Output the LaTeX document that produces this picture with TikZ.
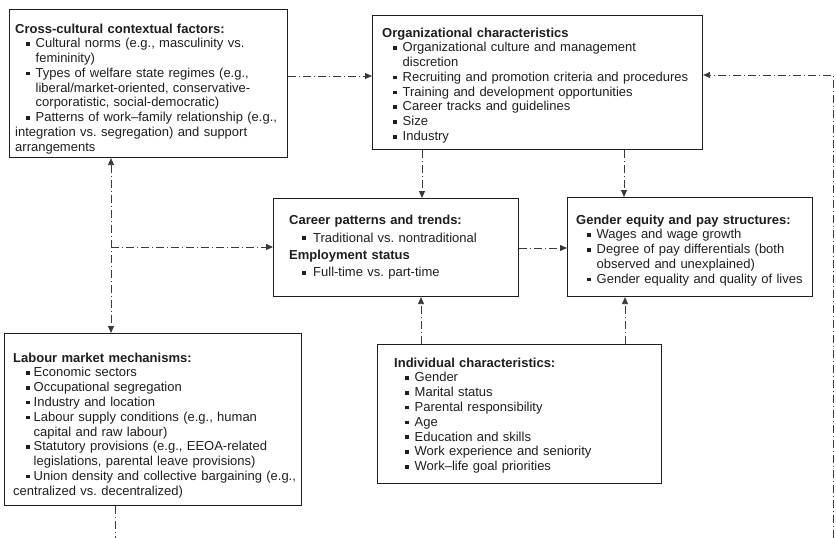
\documentclass[tikz,border=0pt]{standalone}
\usepackage{fontspec}
\setmainfont{Liberation Sans}
\usetikzlibrary{arrows.meta}

\definecolor{inkc}{HTML}{1E1E1E}
\definecolor{linec}{HTML}{3A3A3A}

% bullet list helpers: \hd = bold heading line, \itm = bulleted item with hanging indent
\newlength\bulletin \newlength\textin
\setlength\bulletin{11pt}\setlength\textin{20.5pt}
\newcommand\hd[1]{\par\noindent\textbf{#1}}
\newcommand\itm[1]{\par\hangindent=\textin\hangafter=1\noindent\hspace*{\bulletin}%
  \makebox[\dimexpr\textin-\bulletin\relax][l]{\rule[2pt]{3.6pt}{3.6pt}}#1}
\newcommand\plainln[1]{\par\noindent #1}

\tikzset{
  box/.style={draw=inkc, line width=1.1pt, anchor=north west, inner sep=0pt},
  txt/.style={anchor=north west, inner sep=0pt, text width=330pt, align=left,
    text=inkc, font=\fontsize{13}{14.8}\selectfont\frenchspacing},
  tip/.style={Triangle[length=7pt,width=6pt]},
  link/.style={draw=linec, line width=0.8pt,
    dash pattern=on 8pt off 3pt on 1pt off 3pt,
    -{Triangle[length=7pt,width=6pt]}},
  link2/.style={link, {Triangle[length=7pt,width=6pt]}-{Triangle[length=7pt,width=6pt]}},
  linkplain/.style={link, -},
}

\begin{document}
\begin{tikzpicture}[x=1pt, y=-1pt]
\useasboundingbox (0,0) rectangle (836,538);

% frames
\node[box, minimum width=278pt, minimum height=148pt] (b1) at (9,9) {};
\node[box, minimum width=330pt, minimum height=134pt] (b2) at (372,15) {};
\node[box, minimum width=245pt, minimum height=98pt]  (b3) at (273,198) {};
\node[box, minimum width=245pt, minimum height=99pt]  (b4) at (567,197) {};
\node[box, minimum width=297pt, minimum height=172pt] (b5) at (4,333) {};
\node[box, minimum width=284pt, minimum height=139pt] (b6) at (377,344) {};

% texts
\node[txt] (t1) at (15,18) {%
  \hd{Cross-cultural contextual factors:}
  \itm{Cultural norms (e.g., masculinity vs.\newline femininity)}
  \itm{Types of welfare state regimes (e.g.,\newline liberal/market-oriented, conservative-\newline corporatistic, social-democratic)}
  \itm{Patterns of work–family relationship (e.g.,\newline integration vs. segregation) and support\newline arrangements}};

\node[txt] (t2) at (382,22) {%
  \hd{Organizational characteristics}
  \itm{Organizational culture and management\newline discretion}
  \itm{Recruiting and promotion criteria and procedures}
  \itm{Training and development opportunities}
  \itm{Career tracks and guidelines}
  \itm{Size}
  \itm{Industry}};

\node[txt, font=\fontsize{13}{17.4}\selectfont\frenchspacing] (t3) at (289,207) {%
  \setlength\bulletin{13pt}\setlength\textin{24pt}%
  \hd{Career patterns and trends:}
  \itm{Traditional vs. nontraditional}
  \hd{Employment status}
  \itm{Full-time vs. part-time}};

\node[txt] (t4) at (576,209) {%
  \hd{Gender equity and pay structures:}
  \itm{Wages and wage growth}
  \itm{Degree of pay differentials (both\newline observed and unexplained)}
  \itm{Gender equality and quality of lives}};

\node[txt] (t5) at (13,347) {%
  \setlength\bulletin{13pt}\setlength\textin{20.5pt}%
  \hd{Labour market mechanisms:}
  \itm{Economic sectors}
  \itm{Occupational segregation}
  \itm{Industry and location}
  \itm{Labour supply conditions (e.g., human\newline capital and raw labour)}
  \itm{Statutory provisions (e.g., EEOA-related\newline legislations, parental leave provisions)}
  \itm{Union density and collective bargaining (e.g.,}
  \plainln{centralized vs. decentralized)}};

\node[txt] (t6) at (394,352) {%
  \hd{Individual characteristics:}
  \itm{Gender}
  \itm{Marital status}
  \itm{Parental responsibility}
  \itm{Age}
  \itm{Education and skills}
  \itm{Work experience and seniority}
  \itm{Work–life goal priorities}};

% connectors
\coordinate (rt) at (833,538);
\coordinate (jn) at (111,247);
\coordinate (lb) at (115,538);

\draw[link] (b1.east |- 0,76) -- (b2.west |- 0,76);
\draw[link] (rt) -- (rt |- 0,75) -- (b2.east |- 0,75);
\draw[link] (b2.south -| 422,0) -- (b3.north -| 422,0);
\draw[link] (b2.south -| 624,0) -- (b4.north -| 624,0);
\draw[link] (b3.east |- 0,248) -- (b4.west |- 0,248);
\draw[link] (b6.north -| 421,0) -- (b3.south -| 421,0);
\draw[link] (b6.north -| 625,0) -- (b4.south -| 625,0);
\draw[link2] (b1.south -| jn) -- (b5.north -| jn);
\draw[link] (jn) -- (b3.west |- jn);
\draw[linkplain] (b5.south -| lb) -- (lb);
\end{tikzpicture}
\end{document}
